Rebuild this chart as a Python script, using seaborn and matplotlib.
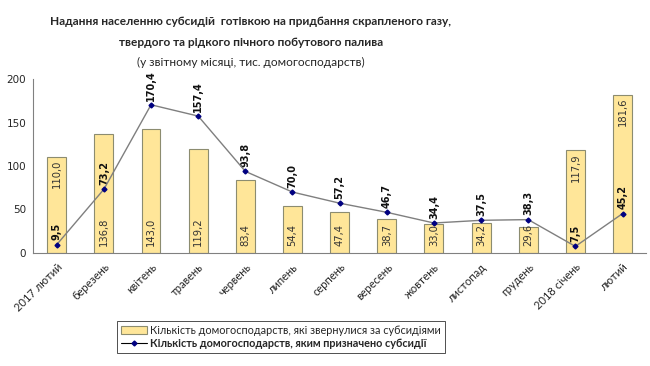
import numpy as np
import matplotlib
matplotlib.use('Agg')
import matplotlib.pyplot as plt
import seaborn as sns
from matplotlib.patches import Patch
from matplotlib.lines import Line2D

# Дані з графіка (тис. домогосподарств)
months = ['2017 лютий', 'березень', 'квітень', 'травень', 'червень', 'липень',
          'серпень', 'вересень', 'жовтень', 'листопад', 'грудень', '2018 січень', 'лютий']
applied = [110.0, 136.8, 143.0, 119.2, 83.4, 54.4, 47.4, 38.7, 33.0, 34.2, 29.6, 117.9, 181.6]
assigned = [9.5, 73.2, 170.4, 157.4, 93.8, 70.0, 57.2, 46.7, 34.4, 37.5, 38.3, 7.5, 45.2]
y_ticks = [0, 50, 100, 150, 200]

label_bar = 'Кількість домогосподарств, які звернулися за субсидіями'
label_line = 'Кількість домогосподарств, яким призначено субсидії'

sns.set_style('white')
plt.rcParams['font.family'] = ['DejaVu Sans']

fig = plt.figure(figsize=(6.5, 3.66), dpi=100)
ax = fig.add_axes([0.051, 0.309, 0.943, 0.475])

bar_color = '#FFE699'
x = np.arange(len(months))

sns.barplot(x=x, y=applied, ax=ax, color=bar_color, width=0.4,
            edgecolor='#8C8C70', linewidth=0.8, saturation=1, native_scale=True)
ax.plot(x, assigned, color='#7F7F7F', linewidth=1, marker='D', markersize=2.5,
        markerfacecolor='#000080', markeredgecolor='#000080', zorder=4)

fmt = lambda v: f'{v:.1f}'.replace('.', ',')

# підписи стовпців: біля основи, або біля верху, якщо знизу підпис лінії
top_inside = {0, 11, 12}
for i, v in enumerate(applied):
    if i in top_inside:
        ax.text(i, v - 3, fmt(v), rotation=90, ha='center', va='top',
                fontsize=7.2, color='#333333')
    else:
        ax.text(i, 8, fmt(v), rotation=90, ha='center', va='bottom',
                fontsize=7.2, color='#333333')

for i, v in enumerate(assigned):
    ax.annotate(fmt(v), (i, v), xytext=(0, 3), textcoords='offset points',
                rotation=90, ha='center', va='bottom', fontsize=7,
                color='#111111', fontweight='bold')

ax.set_xlim(-0.5, len(months) - 0.5)
ax.set_ylim(0, 200)
ax.set_yticks(y_ticks)
ax.set_xticks(x)
ax.set_xticklabels(months, rotation=45, ha='right', rotation_mode='anchor',
                   fontsize=8, family='Lato')
ax.set_xticks(np.arange(-0.5, len(months), 1), minor=True)
ax.tick_params(axis='x', which='major', length=0, pad=6)
ax.tick_params(axis='x', which='minor', length=4, color='#808080', direction='out')
ax.tick_params(axis='y', length=3, color='#808080', direction='out', labelsize=7.5, pad=2)
ax.set_xlabel('')
ax.set_ylabel('')

for s in ['top', 'right']:
    ax.spines[s].set_visible(False)
for s in ['left', 'bottom']:
    ax.spines[s].set_color('#808080')
    ax.spines[s].set_linewidth(0.8)

# заголовок
tx = 0.386
fig.text(tx, 0.94, 'Надання населенню субсидій  готівкою на придбання скрапленого газу,',
         ha='center', va='center', fontsize=8.6, fontweight='bold', family='Lato')
fig.text(tx, 0.885, 'твердого та рідкого пічного побутового палива',
         ha='center', va='center', fontsize=8.6, fontweight='bold', family='Lato')
fig.text(tx, 0.83, '(у звітному місяці, тис. домогосподарств)',
         ha='center', va='center', fontsize=8.6, family='Lato')

handles = [Patch(facecolor=bar_color, edgecolor='#8C8C70', linewidth=0.8),
           Line2D([0], [0], color='#000000', linewidth=0.8, marker='D', markersize=2.5,
                  markerfacecolor='#000080', markeredgecolor='#000080')]
leg = fig.legend(handles, [label_bar, label_line], loc='center', bbox_to_anchor=(0.432, 0.079),
                 frameon=True, fancybox=False, edgecolor='black',
                 prop={'family': 'Lato', 'size': 7.8},
                 handlelength=2.4, handleheight=0.8, borderpad=0.35, labelspacing=0.25,
                 handletextpad=0.3)
leg.get_frame().set_linewidth(0.6)
leg.get_texts()[1].set_fontweight('bold')

fig.savefig('out.png', dpi=100)
